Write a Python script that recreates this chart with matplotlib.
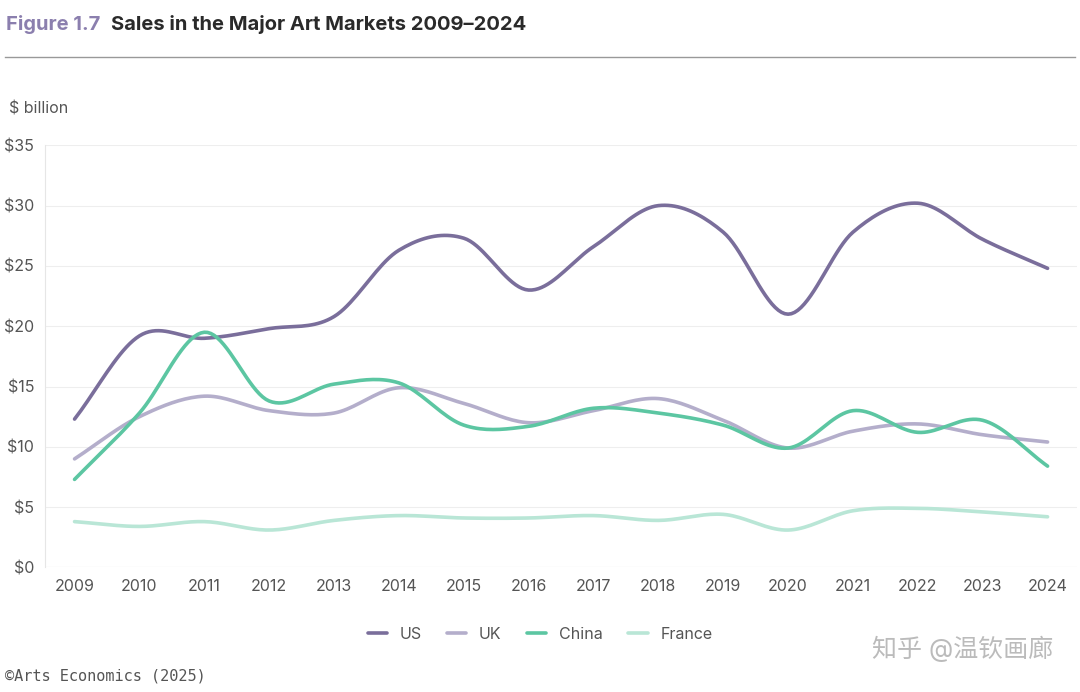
import matplotlib.pyplot as plt
import numpy as np

years = list(range(2009, 2025))
us = [12.3, 19.2, 19.0, 19.8, 20.8, 26.3, 27.3, 23.0, 26.6, 30.0, 27.8, 21.0, 27.8, 30.2, 27.2, 24.8]
uk = [9.0, 12.5, 14.2, 13.0, 12.8, 14.9, 13.6, 12.0, 13.0, 14.0, 12.2, 9.9, 11.3, 11.9, 11.0, 10.4]
china = [7.3, 12.8, 19.5, 13.8, 15.2, 15.3, 11.8, 11.7, 13.2, 12.8, 11.8, 9.9, 13.0, 11.2, 12.2, 8.4]
france = [3.8, 3.4, 3.8, 3.1, 3.9, 4.3, 4.1, 4.1, 4.3, 3.9, 4.4, 3.1, 4.7, 4.9, 4.6, 4.2]

series = [('US', us, '#7a6e9b'), ('UK', uk, '#b4aecb'),
          ('China', china, '#5cc6a2'), ('France', france, '#b9e6d6')]


def smooth(x, y, n=20):
    # catmull-rom through the points, just for the curvy look
    x = np.asarray(x, float)
    y = np.asarray(y, float)
    px = np.concatenate([[2 * x[0] - x[1]], x, [2 * x[-1] - x[-2]]])
    py = np.concatenate([[2 * y[0] - y[1]], y, [2 * y[-1] - y[-2]]])
    xs, ys = [], []
    t = np.linspace(0, 1, n, endpoint=False)
    for i in range(1, len(px) - 2):
        for p, out in ((px, xs), (py, ys)):
            p0, p1, p2, p3 = p[i - 1:i + 3]
            out.extend(0.5 * (2 * p1 + (-p0 + p2) * t + (2 * p0 - 5 * p1 + 4 * p2 - p3) * t ** 2
                              + (-p0 + 3 * p1 - 3 * p2 + p3) * t ** 3))
    xs.append(x[-1])
    ys.append(y[-1])
    return xs, ys


plt.rcParams['font.family'] = ['Inter', 'Noto Sans CJK SC', 'DejaVu Sans']
fig = plt.figure(figsize=(10.8, 6.92), dpi=100)
ax = fig.add_axes([0.042, 0.18, 0.955, 0.61])

for name, vals, color in series:
    sx, sy = smooth(years, vals)
    ax.plot(sx, sy, color=color, lw=2.6, label=name, solid_capstyle='round')

ax.set_xlim(2008.55, 2024.45)
ax.set_ylim(0, 35)
ax.set_xticks(years)
ax.set_yticks(range(0, 36, 5))
ax.set_yticklabels([f'${v}' for v in range(0, 36, 5)])
ax.tick_params(length=0, labelsize=11.5, colors='#555555', pad=8)
ax.grid(axis='y', color='#eeeeee', lw=0.8)
for s in ['top', 'right', 'bottom']:
    ax.spines[s].set_visible(False)
ax.spines['left'].set_color('#e6e6e6')
ax.axhline(0, color='#e6e6e6', lw=0.8)

fig.text(0.006, 0.965, 'Figure 1.7', color='#8b7fae', fontsize=14.5, fontweight='bold', va='center')
fig.text(0.103, 0.965, 'Sales in the Major Art Markets 2009–2024', color='#2a2a2a',
         fontsize=14.5, fontweight='bold', va='center')
fig.add_artist(plt.Line2D([0.005, 0.995], [0.917, 0.917], color='#999999', lw=1))
fig.text(0.008, 0.843, '$ billion', fontsize=11.5, color='#555555', va='center')

fig.legend(loc='center', bbox_to_anchor=(0.5, 0.083), ncol=4, frameon=False,
           fontsize=11.5, handlelength=1.2, columnspacing=1.6, labelcolor='#555555')
fig.text(0.005, 0.012, '©Arts Economics (2025)', family='DejaVu Sans Mono', fontsize=11,
         color='#555555', va='bottom')
fig.text(0.975, 0.062, '知乎 @温钦画廊', fontsize=18, color='#bbbbbb', ha='right', va='center')

fig.savefig('out.png', dpi=100, facecolor='white')
